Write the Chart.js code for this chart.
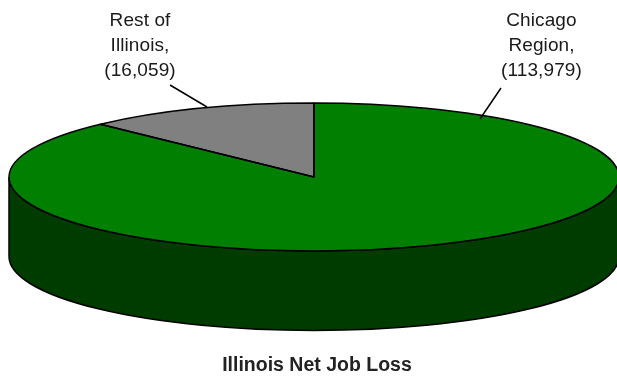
<!DOCTYPE html>
<html lang="en">

<head>
    <meta charset="UTF-8">
    <title>Illinois Net Job Loss</title>
    <script src="https://cdn.jsdelivr.net/npm/chart.js"></script>
    <style>
        body {
            margin: 0;
            background-color: #ffffff;
        }

        canvas {
            display: block;
        }
    </style>
</head>

<body>
    <canvas id="jobLossChart" width="617" height="377"></canvas>

    <script>
        // Data
        const regions = [['Chicago', 'Region,'], ['Rest of', 'Illinois,']];
        const jobLoss = [113979, 16059];
        const topColors = ['#007f00', '#808080'];
        const wallColors = ['#003c00', '#404040'];

        // Fake 3D look: the flat pie gets squashed around this centre, the wall hangs below it
        const centerX = 314;
        const centerY = 177;
        const pieRadius = 305;
        const squash = 74 / 305;
        const wallDepth = 79.5;

        // Where the labels and their leader lines go
        const labelSpots = [
            { x: 541.5, y: 21, lineFrom: [501, 88], lineTo: [480, 119] },
            { x: 140, y: 21, lineFrom: [170, 85], lineTo: [207, 107] }
        ];

        const pie3d = {
            id: 'pie3d',
            beforeDatasetsDraw(chart) {
                const ctx = chart.ctx;
                const arcs = chart.getDatasetMeta(0).data;

                // Wall: only the part of each slice facing the viewer
                arcs.forEach((arc, i) => {
                    const start = Math.max(arc.startAngle, 0);
                    const end = Math.min(arc.endAngle, Math.PI);
                    if (end <= start) return;
                    ctx.save();
                    ctx.beginPath();
                    ctx.ellipse(centerX, centerY, pieRadius, pieRadius * squash, 0, start, end);
                    ctx.ellipse(centerX, centerY + wallDepth, pieRadius, pieRadius * squash, 0, end, start, true);
                    ctx.closePath();
                    ctx.fillStyle = wallColors[i];
                    ctx.fill();
                    ctx.lineWidth = 1.5;
                    ctx.strokeStyle = '#000000';
                    ctx.stroke();
                    ctx.restore();
                });

                // The library draws the slices through this transform
                const first = arcs[0];
                ctx.save();
                ctx.translate(centerX, centerY);
                ctx.scale(1, squash);
                ctx.translate(-first.x, -first.y);
            },
            afterDatasetsDraw(chart) {
                const ctx = chart.ctx;
                ctx.restore();

                const arcs = chart.getDatasetMeta(0).data;
                ctx.save();
                ctx.strokeStyle = '#000000';
                ctx.lineWidth = 1.5;
                ctx.lineJoin = 'round';
                arcs.forEach(arc => {
                    ctx.beginPath();
                    ctx.moveTo(centerX, centerY);
                    ctx.ellipse(centerX, centerY, pieRadius, pieRadius * squash, 0, arc.startAngle, arc.endAngle);
                    ctx.closePath();
                    ctx.stroke();
                });

                // Labels
                ctx.fillStyle = '#1a1a1a';
                ctx.font = '19px "Liberation Sans"';
                ctx.letterSpacing = '0.1px';
                ctx.textAlign = 'center';
                ctx.textBaseline = 'middle';
                regions.forEach((name, i) => {
                    const spot = labelSpots[i];
                    const lines = [...name, '(' + jobLoss[i].toLocaleString('en-US') + ')'];
                    lines.forEach((line, n) => ctx.fillText(line, spot.x, spot.y + n * 25));

                    ctx.beginPath();
                    ctx.moveTo(spot.lineFrom[0], spot.lineFrom[1]);
                    ctx.lineTo(spot.lineTo[0], spot.lineTo[1]);
                    ctx.stroke();
                });
                ctx.restore();
            }
        };

        new Chart(document.getElementById('jobLossChart'), {
            type: 'pie',
            data: {
                labels: regions,
                datasets: [{
                    data: jobLoss,
                    backgroundColor: topColors,
                    borderWidth: 0,
                    clip: false
                }]
            },
            options: {
                responsive: false,
                animation: false,
                radius: pieRadius,
                layout: { padding: { left: 17 } },
                plugins: {
                    legend: { display: false },
                    tooltip: { enabled: false },
                    title: {
                        display: true,
                        position: 'bottom',
                        text: 'Illinois Net Job Loss',
                        color: '#222222',
                        font: { family: '"Liberation Sans"', size: 19.5, weight: 'bold', lineHeight: 1.15 },
                        padding: { top: 0, bottom: 0 }
                    }
                }
            },
            plugins: [pie3d]
        });
    </script>
</body>

</html>
